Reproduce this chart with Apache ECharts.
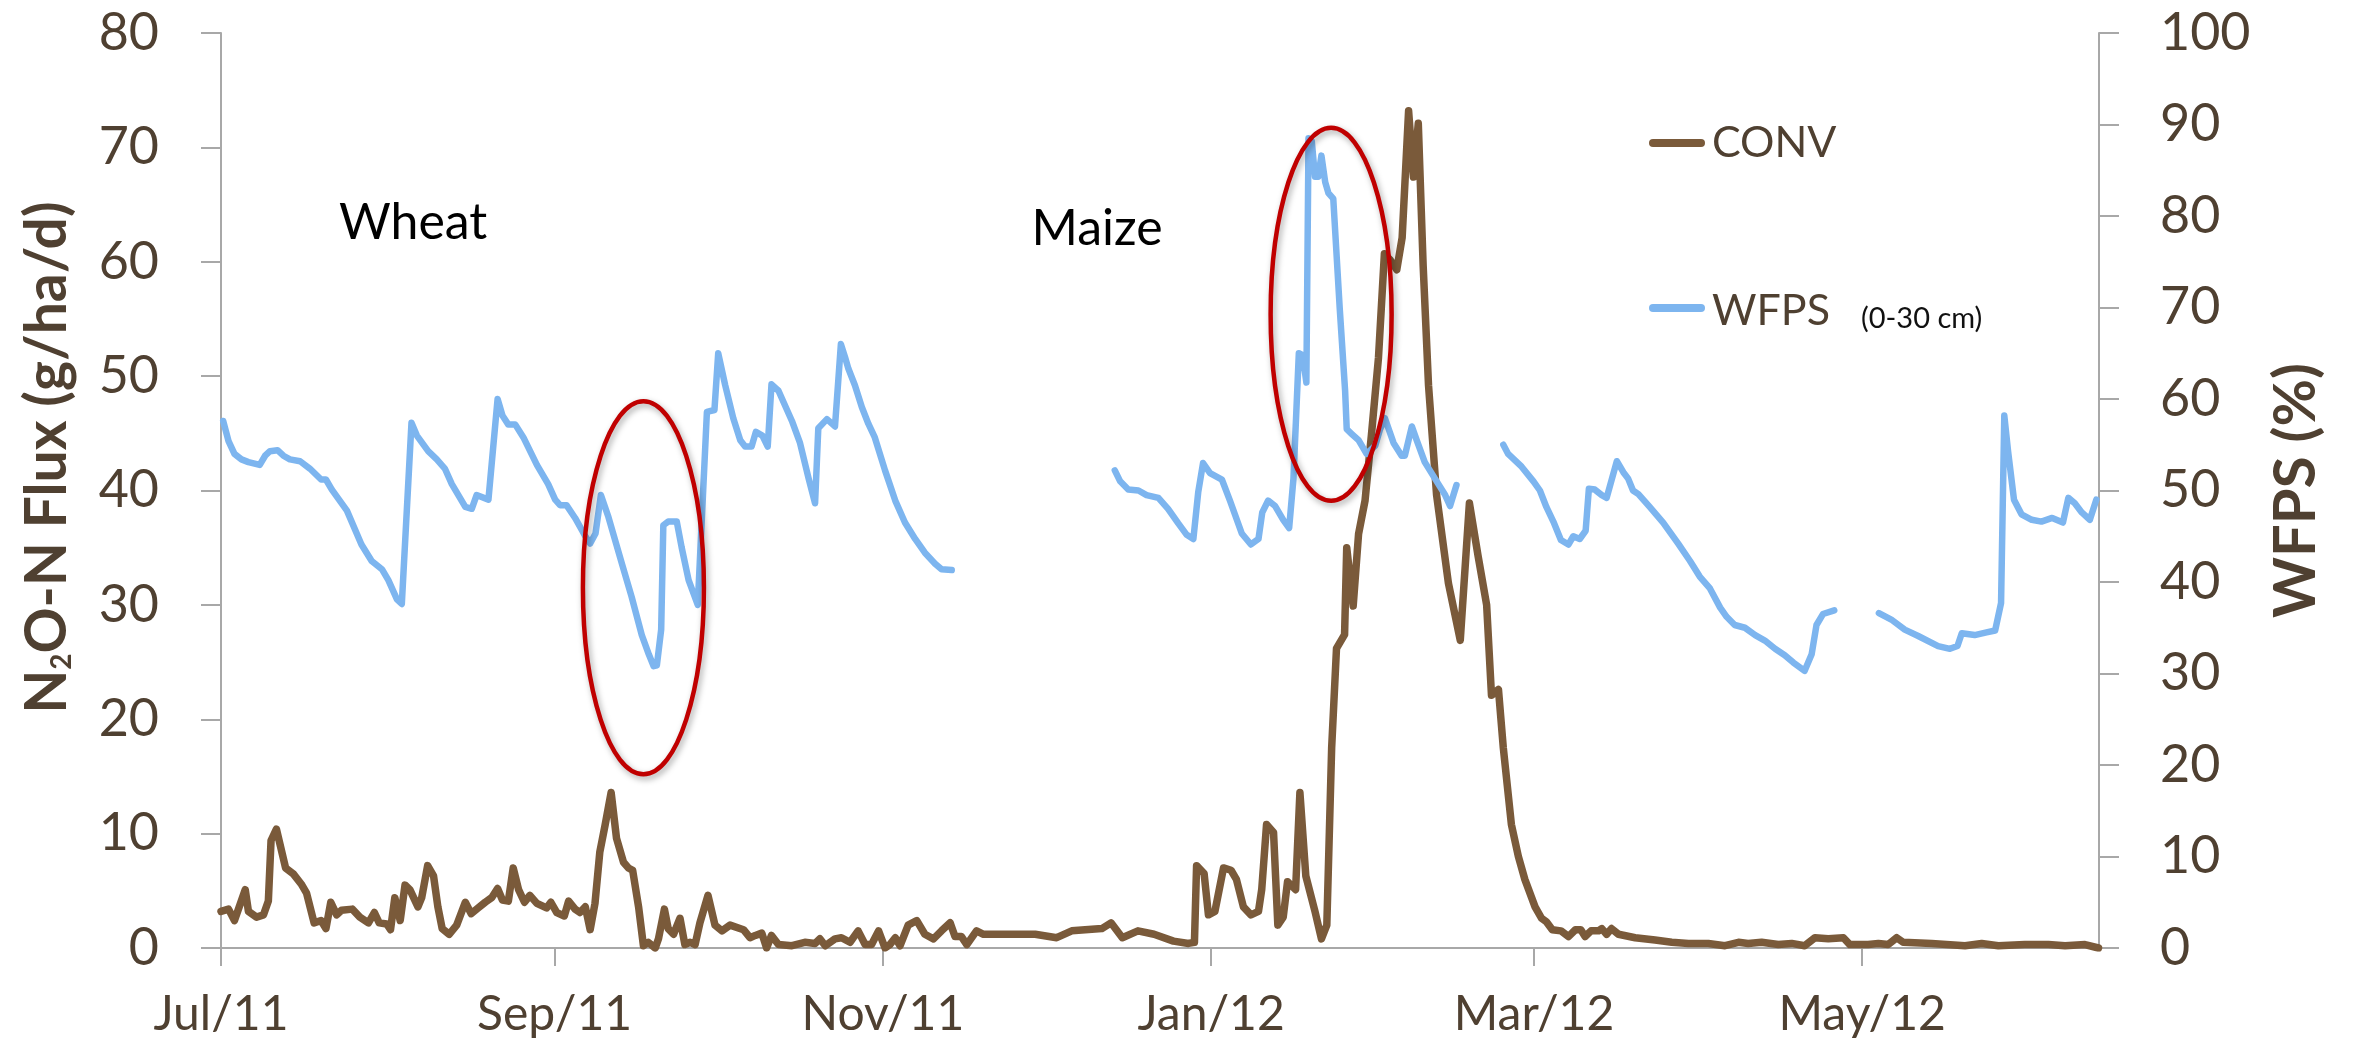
<!DOCTYPE html>
<html>
<head>
<meta charset="utf-8">
<script src="https://cdn.jsdelivr.net/npm/echarts@6/dist/echarts.min.js"></script>
<style>
  html, body { margin: 0; padding: 0; background: #ffffff; }
  #chart { width: 2361px; height: 1045px; }
</style>
</head>
<body>
<div id="chart"></div>
<script>
// x values are days counted from 1 July 2011
const startDate = Date.UTC(2011, 6, 1);
const lastDay = 349;

const xTickDates = ['2011-07-01', '2011-09-01', '2011-11-01', '2012-01-01', '2012-03-01', '2012-05-01'];
const xTickLabels = ['Jul/11', 'Sep/11', 'Nov/11', 'Jan/12', 'Mar/12', 'May/12'];

// N2O-N flux, conventional tillage (g/ha/d): [day, flux]
const convFlux = [
  [0,3.2],[1.4,3.4],[2.5,2.4],[4.5,5.1],[5.1,3.2],[6.6,2.7],[7.9,2.9],[8.8,4.1],[9.3,9.4],[10.3,10.4],
  [12.0,7.0],[13.4,6.5],[14.9,5.6],[15.9,4.8],[17.3,2.2],[18.6,2.4],[19.5,1.7],[20.4,4.0],[21.5,2.9],[22.4,3.3],
  [24.4,3.4],[25.8,2.7],[27.4,2.2],[28.5,3.1],[29.4,2.2],[30.8,2.1],[31.5,1.6],[32.3,4.4],[33.3,2.4],[34.2,5.5],
  [35.1,5.1],[36.6,3.6],[37.3,4.4],[38.4,7.2],[39.5,6.3],[40.3,3.6],[41.1,1.7],[42.4,1.2],[43.8,2.0],[45.4,4.0],
  [46.5,3.0],[47.8,3.5],[49.1,4.0],[50.3,4.4],[51.4,5.2],[52.3,4.2],[53.4,4.1],[54.3,7.0],[55.3,5.1],[56.4,4.0],
  [57.4,4.6],[58.7,3.9],[60.5,3.5],[61.3,4.0],[62.4,3.1],[63.8,2.8],[64.6,4.1],[65.8,3.4],[66.7,3.1],[67.7,3.6],
  [68.6,1.6],[69.5,3.9],[70.4,8.4],[71.4,10.8],[72.5,13.6],[73.5,9.6],[74.8,7.5],[75.7,7.0],[76.5,6.8],[77.6,3.6],
  [78.5,0.2],[79.4,0.5],[80.7,0.0],[81.3,0.8],[82.4,3.4],[83.1,1.7],[84.1,1.2],[85.3,2.6],[86.2,0.3],[87.2,0.5],
  [88.1,0.3],[89.0,2.2],[90.5,4.6],[91.8,2.0],[93.1,1.5],[94.6,2.0],[97.1,1.6],[98.3,0.9],[99.3,1.1],[100.5,1.3],
  [101.4,0.0],[102.3,1.1],[103.6,0.3],[106.1,0.2],[108.5,0.5],[110.4,0.4],[111.3,0.8],[112.3,0.2],[114.1,0.8],[115.3,0.9],
  [116.9,0.5],[118.4,1.5],[119.7,0.3],[120.9,0.3],[122.2,1.5],[123.4,0.0],[124.3,0.3],[125.3,0.9],[126.2,0.2],[127.7,2.0],
  [129.3,2.4],[130.8,1.2],[132.4,0.8],[133.9,1.5],[135.5,2.2],[136.4,1.0],[137.6,1.0],[138.6,0.3],[140.4,1.5],[141.7,1.2],
  [145.1,1.2],[151.3,1.2],[155.3,0.9],[158.1,1.5],[163.7,1.7],[165.4,2.2],[167.5,0.9],[170.4,1.5],[173.4,1.2],[177.0,0.6],
  [179.8,0.4],[180.9,0.5],[181.3,7.2],[182.7,6.5],[183.5,2.9],[184.7,3.2],[186.3,7.0],[187.7,6.8],[188.7,6.0],[190.0,3.6],
  [191.4,2.9],[192.8,3.2],[193.4,5.1],[194.3,10.8],[195.6,10.1],[196.4,2.0],[197.4,2.7],[198.2,5.8],[199.7,5.1],[200.5,13.6],
  [201.6,6.3],[203.3,3.2],[204.5,0.8],[205.5,2.0],[206.4,17.5],[207.3,26.2],[208.8,27.4],[209.2,35.0],[210.4,29.9],[211.4,36.2],
  [212.6,39.1],[213.8,44.9],[215.1,51.6],[216.2,60.7],[217.2,60.2],[218.5,59.3],[219.5,62.1],[220.7,73.2],[221.6,67.4],[222.5,72.1],
  [223.4,59.7],[224.4,49.2],[225.9,39.6],[228.1,31.9],[230.3,26.9],[232.0,38.9],[233.6,34.3],[235.2,30.0],[236.1,22.1],[237.4,22.6],
  [238.3,17.5],[239.8,10.8],[241.1,8.0],[242.3,6.0],[244.2,3.6],[245.4,2.6],[246.3,2.3],[247.4,1.6],[249.0,1.5],[250.4,1.0],
  [251.7,1.6],[252.7,1.6],[253.5,1.0],[254.6,1.5],[256.0,1.5],[256.6,1.7],[257.5,1.2],[258.4,1.7],[259.7,1.2],[262.8,0.9],
  [266.5,0.7],[269.6,0.5],[272.7,0.4],[276.4,0.4],[279.5,0.2],[282.0,0.5],[283.8,0.4],[286.3,0.5],[289.4,0.3],[291.9,0.4],
  [294.3,0.2],[296.2,0.9],[298.7,0.8],[301.5,0.9],[302.7,0.3],[306.1,0.3],[308.0,0.4],[309.8,0.3],[311.4,0.9],[312.6,0.5],
  [317.9,0.4],[324.1,0.2],[327.2,0.4],[330.3,0.2],[335.2,0.3],[339.6,0.3],[342.7,0.2],[346.4,0.3],[348.9,0.0]
];

// Water-filled pore space, 0-30 cm (%): [day, WFPS], one array per unbroken record
const wfpsWheat = [
  [0.4,57.6],[1.4,55.4],[2.5,54.0],[3.8,53.4],[5.1,53.1],[7.2,52.8],[8.2,53.8],[9.1,54.3],[10.5,54.4],[11.6,53.8],
  [12.8,53.4],[14.7,53.2],[16.5,52.4],[18.6,51.2],[19.5,51.2],[20.6,50.1],[23.4,47.8],[26.1,44.1],[28.0,42.3],[29.9,41.4],
  [31.1,40.2],[32.7,38.1],[33.6,37.6],[35.4,57.4],[36.4,56.0],[38.5,54.3],[40.1,53.4],[41.6,52.4],[42.9,50.7],[45.4,48.2],
  [46.6,48.0],[47.5,49.5],[49.7,49.0],[51.4,60.0],[52.3,58.2],[53.4,57.2],[54.7,57.2],[56.2,55.8],[58.7,52.8],[60.8,50.7],
  [62.1,49.0],[63.0,48.4],[64.2,48.4],[65.8,47.0],[67.7,45.0],[68.6,44.2],[69.6,45.3],[70.6,49.5],[72.0,47.1],[74.5,42.0],
  [76.3,38.4],[78.2,34.2],[79.5,32.1],[80.4,30.8],[81.0,30.9],[81.8,34.8],[82.2,46.2],[83.1,46.6],[84.7,46.6],[85.6,43.8],
  [86.9,40.2],[88.6,37.5],[90.3,58.6],[91.7,58.8],[92.4,65.0],[93.7,61.5],[95.2,57.9],[96.5,55.5],[97.4,54.8],[98.6,54.8],
  [99.4,56.4],[100.6,56.0],[101.6,54.8],[102.3,61.6],[103.6,60.9],[106.1,57.6],[107.6,55.2],[109.2,51.3],[110.4,48.6],[111.0,56.8],
  [112.6,57.8],[114.1,57.0],[115.2,66.0],[116.0,64.5],[116.6,63.3],[117.8,61.5],[119.1,59.1],[120.3,57.3],[121.5,55.8],[123.4,52.2],
  [125.3,48.9],[127.1,46.5],[129.0,44.7],[130.8,43.2],[132.7,42.0],[133.9,41.4],[135.8,41.3]
];
const wfpsMaize = [
  [166.1,52.2],[167.1,51.0],[168.6,50.1],[170.5,50.0],[172.0,49.5],[174.2,49.2],[176.0,48.0],[177.9,46.4],[179.4,45.2],[180.7,44.7],
  [181.6,49.8],[182.5,53.0],[183.8,51.9],[186.0,51.2],[187.5,48.9],[189.7,45.3],[191.4,44.1],[192.8,44.7],[193.5,47.6],[194.6,48.9],
  [195.9,48.3],[197.4,46.8],[198.5,45.9],[199.3,51.3],[200.3,65.0],[201.0,64.8],[201.7,61.8],[202.1,88.5],[202.7,88.2],[203.3,84.3],
  [203.9,84.3],[204.5,86.6],[205.2,83.7],[205.8,82.5],[206.7,81.9],[207.9,69.9],[208.9,60.9],[209.2,56.7],[210.1,56.2],[211.4,55.5],
  [212.9,54.0],[214.5,54.9],[215.4,56.7],[216.3,57.9],[217.9,55.2],[219.4,53.8],[220.0,53.8],[221.3,57.0],[222.2,55.5],[223.7,53.1],
  [225.6,51.3],[227.5,49.5],[228.4,48.3],[229.6,50.6]
];
const wfpsSpring = [
  [238.3,55.0],[239.2,54.0],[241.7,52.6],[243.9,51.0],[245.1,50.0],[246.3,48.2],[247.6,46.6],[249.0,44.6],[250.4,44.1],[251.3,45.0],
  [252.5,44.7],[253.6,45.6],[254.2,50.2],[255.3,50.1],[256.6,49.5],[257.5,49.2],[259.4,53.2],[260.6,52.0],[261.5,51.3],[262.4,50.0],
  [263.4,49.6],[265.5,48.2],[268.0,46.5],[270.8,44.2],[273.0,42.3],[274.8,40.6],[276.7,39.3],[278.6,37.2],[279.8,36.2],[281.3,35.3],
  [283.2,35.0],[285.1,34.2],[286.9,33.6],[288.8,32.7],[290.6,32.0],[292.2,31.2],[294.3,30.3],[295.6,32.1],[296.5,35.3],[297.7,36.5],
  [299.8,36.9]
];
const wfpsEarlySummer = [
  [308.1,36.6],[310.4,35.9],[312.9,34.8],[315.4,34.1],[319.1,33.0],[321.3,32.7],[322.7,33.0],[323.5,34.4],[325.9,34.2],[328.1,34.5],
  [329.7,34.7],[330.8,37.7],[331.4,58.2],[332.1,54.3],[333.2,49.0],[334.6,47.4],[336.5,46.8],[338.3,46.6],[340.3,47.0],[342.3,46.5],
  [343.3,49.2],[344.5,48.6],[345.8,47.6],[347.3,46.8],[348.5,49.0]
];

// Crop labels and highlighted periods, placed in [day, flux] terms
const cropNotes = [
  { text: 'Wheat', at: [35.7, 63.4] },
  { text: 'Maize', at: [162.8, 62.9] }
];
const highlights = [
  { center: [78.5, 31.5] },
  { center: [206.3, 55.4] }
];

const DAY = 86400000;
const tickDays = xTickDates.map(s => Math.round((Date.parse(s + 'T00:00:00Z') - startDate) / DAY));
const tickLabelFor = v => { const i = tickDays.indexOf(Math.round(v)); return i >= 0 ? xTickLabels[i] : ''; };

const BROWN = '#7a5a3a';
const BLUE = '#7db5ef';
const TEXT = '#4f4031';
const AXIS = '#a8a8a8';
const FONT = 'Lato';

const wfpsData = [];
[wfpsWheat, wfpsMaize, wfpsSpring, wfpsEarlySummer].forEach((run, i) => {
  if (i > 0) wfpsData.push([run[0][0] - 0.5, '-']);
  run.forEach(p => wfpsData.push(p));
});

const chart = echarts.init(document.getElementById('chart'));

const yLabel = { color: TEXT, fontFamily: FONT, fontSize: 52 };

chart.setOption({
  animation: false,
  backgroundColor: '#ffffff',
  grid: { left: 221, right: 262, top: 33, bottom: 97, containLabel: false },
  xAxis: {
    type: 'value',
    min: 0,
    max: lastDay,
    axisLine: { show: true, onZero: false, lineStyle: { color: AXIS, width: 2 } },
    axisTick: { show: true, length: 18, lineStyle: { color: AXIS, width: 2 }, customValues: tickDays },
    axisLabel: {
      customValues: tickDays,
      formatter: tickLabelFor,
      color: TEXT, fontFamily: FONT, fontSize: 48, lineHeight: 56, margin: 39
    },
    splitLine: { show: false }
  },
  yAxis: [
    {
      type: 'value', position: 'left', min: 0, max: 80, interval: 10,
      name: '{a|N}{b|2}{a|O-N Flux (g/ha/d)}',
      nameLocation: 'middle', nameRotate: 90, nameGap: 145,
      nameTextStyle: {
        padding: [0, 0, 0, 66],
        rich: {
          a: { fontFamily: FONT, fontWeight: 'bold', fontSize: 57, lineHeight: 66, color: TEXT, verticalAlign: 'bottom' },
          b: { fontFamily: FONT, fontWeight: 'bold', fontSize: 28, lineHeight: 13, color: TEXT, verticalAlign: 'bottom' }
        }
      },
      axisLine: { show: true, lineStyle: { color: AXIS, width: 2 } },
      axisTick: { show: true, length: 20, lineStyle: { color: AXIS, width: 2 } },
      axisLabel: Object.assign({ margin: 62 }, yLabel),
      splitLine: { show: false }
    },
    {
      type: 'value', position: 'right', min: 0, max: 100, interval: 10,
      name: 'WFPS (%)',
      nameLocation: 'middle', nameRotate: 90, nameGap: 165,
      nameTextStyle: { fontFamily: FONT, fontWeight: 'bold', fontSize: 58, lineHeight: 64, color: TEXT },
      axisLine: { show: true, lineStyle: { color: AXIS, width: 2 } },
      axisTick: { show: true, length: 20, lineStyle: { color: AXIS, width: 2 } },
      axisLabel: Object.assign({ margin: 61 }, yLabel),
      splitLine: { show: false }
    }
  ],
  legend: [
    {
      data: ['CONV'], left: 1649, top: 118, padding: 0, selectedMode: false,
      icon: 'path://M4,0 L52,0 A4,4 0 0 1 52,8 L4,8 A4,4 0 0 1 4,0 Z',
      itemWidth: 56, itemHeight: 8,
      textStyle: { color: TEXT, fontFamily: FONT, fontSize: 43, lineHeight: 50, padding: [0, 0, 0, 2] }
    },
    {
      data: ['WFPS'], left: 1649, top: 290, padding: 0, selectedMode: false,
      icon: 'path://M4,0 L52,0 A4,4 0 0 1 52,8 L4,8 A4,4 0 0 1 4,0 Z',
      itemWidth: 56, itemHeight: 8,
      formatter: name => '{w|' + name + '}{s|(0-30 cm)}',
      textStyle: {
        padding: [0, 0, 0, 2],
        rich: {
          w: { color: TEXT, fontFamily: FONT, fontSize: 43, lineHeight: 50, verticalAlign: 'bottom' },
          s: { color: '#111111', fontFamily: FONT, fontSize: 29, lineHeight: 39, verticalAlign: 'bottom', padding: [0, 0, 0, 31] }
        }
      }
    }
  ],
  series: [
    {
      name: 'CONV', type: 'line', xAxisIndex: 0, yAxisIndex: 0,
      data: convFlux, symbol: 'none', showSymbol: false, smooth: false,
      lineStyle: { color: BROWN, width: 7.5, join: 'round', cap: 'round' },
      itemStyle: { color: BROWN }, z: 2
    },
    {
      name: 'WFPS', type: 'line', xAxisIndex: 0, yAxisIndex: 1,
      data: wfpsData, connectNulls: false, symbol: 'none', showSymbol: false, smooth: false,
      lineStyle: { color: BLUE, width: 6.5, join: 'round', cap: 'round' },
      itemStyle: { color: BLUE }, z: 3
    }
  ]
});

// Crop names and the highlighted rewetting events, converted from data space
const px = (d, v) => chart.convertToPixel({ xAxisIndex: 0, yAxisIndex: 0 }, [d, v]);
const graphics = [];
cropNotes.forEach(n => {
  const [x, y] = px(n.at[0], n.at[1]);
  graphics.push({
    type: 'text', x: x, y: y, z: 50,
    style: { text: n.text, fill: '#000000', font: '50px Lato', textAlign: 'center', textVerticalAlign: 'middle' }
  });
});
highlights.forEach(h => {
  const [cx, cy] = px(h.center[0], h.center[1]);
  graphics.push({
    type: 'ellipse', z: 60,
    shape: { cx: cx, cy: cy, rx: 60.5, ry: 186.5 },
    style: {
      fill: 'none', stroke: '#c00000', lineWidth: 4.5,
      shadowBlur: 6, shadowColor: 'rgba(0,0,0,0.35)', shadowOffsetX: 2, shadowOffsetY: 3
    }
  });
});
chart.setOption({ graphic: graphics });
</script>
</body>
</html>
